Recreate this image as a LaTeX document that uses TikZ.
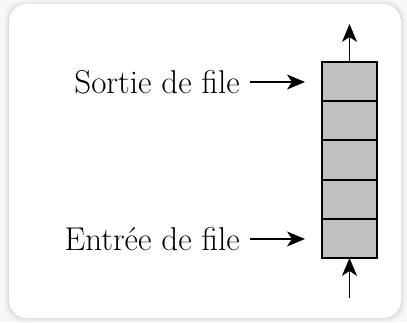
\documentclass[tikz,border=0pt]{standalone}
\usetikzlibrary{arrows.meta,positioning,calc}
\definecolor{cellgray}{RGB}{192,192,192}
\definecolor{pagebg}{RGB}{248,248,248}
\tikzset{
  cell/.style={draw=black, fill=cellgray, line width=1.9pt, minimum width=55pt, minimum height=39pt, inner sep=0pt, outer sep=0pt},
  lbl/.style={inner sep=0pt, anchor=east, font=\fontsize{33}{38}\selectfont},
  arr/.style={line width=1.9pt, -{Stealth[length=18pt,width=15pt,inset=5pt]}},
}
\begin{document}
\begin{tikzpicture}[x=1pt,y=-1pt]
  % page and card
  \fill[pagebg] (0,0) rectangle (407,322);
  \foreach \k/\o in {5/0.012,4/0.016,3/0.02,2/0.025,1/0.03}{
    \fill[black,opacity=\o,rounded corners=18pt] (9-\k,4-\k+1) rectangle (401+\k,318+\k);
  }
  \fill[white,rounded corners=18pt] (9,4) rectangle (401,318);

  % the queue cells, top to bottom
  \node[cell] (c1) at (349.5,81.6) {};
  \node[cell] (c2) at (349.5,120.8) {};
  \node[cell] (c3) at (349.5,160) {};
  \node[cell] (c4) at (349.5,199.2) {};
  \node[cell] (c5) at (349.5,238.4) {};

  % labels
  \node[lbl] (out) at (240,82) {Sortie de file};
  \node[lbl] (in) at (240,239) {Entrée de file};

  \draw[arr, shorten <=10pt, shorten >=17pt] (out.east) -- (out.east -| c1.west);
  \draw[arr, shorten <=10pt, shorten >=17pt] (in.east) -- (in.east -| c5.west);

  % ends of the queue
  \coordinate (top) at (349.5,24);
  \coordinate (bot) at (349.5,298);
  \draw[arr] (c1.north) -- (top);
  \draw[arr] (bot) -- (c5.south);
\end{tikzpicture}
\end{document}
